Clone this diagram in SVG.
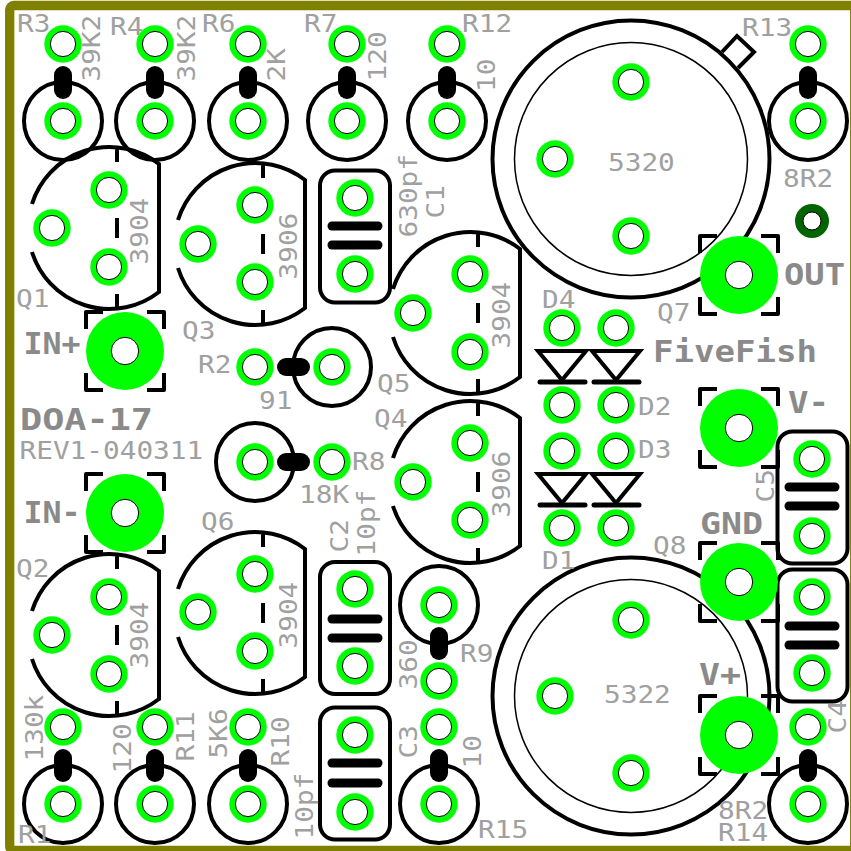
<svg xmlns="http://www.w3.org/2000/svg" width="851" height="851" viewBox="0 0 851 851">
<style>
.o{fill:none;stroke:#000;stroke-width:4}
.th{fill:none;stroke:#000;stroke-width:1.5}
.bar{fill:none;stroke:#000;stroke-width:18;stroke-linecap:round}
.cb{fill:none;stroke:#000;stroke-width:9;stroke-linecap:round}
.dl{fill:none;stroke:#000;stroke-width:4;stroke-linejoin:miter}
.db{fill:none;stroke:#000;stroke-width:5;stroke-linecap:round}
text{font-family:"DejaVu Sans Mono","Liberation Mono",monospace;fill:#a0a0a0;font-size:24px}
.b{font-weight:bold;font-size:30px;fill:#8a8a8a}
</style>
<defs>
<g id="pad"><circle r="18.7" fill="#00ff00"/><circle r="12.6" fill="#fff" stroke="#000" stroke-width="1"/></g>
<g id="bigpad"><circle r="39" fill="#00ff00"/><circle r="13.7" fill="#fff" stroke="#000" stroke-width="1"/></g>
<path id="brk" class="o" stroke-linejoin="round" d="M-39-22V-39H-22M22-39H39V-22M39 22V39H22M-22 39H-39V22"/>
<path id="qb" class="o" d="M-77-24A81 81 0 0 1 50-64V64A81 81 0 0 1-77 24M8-80V-66M8-10V10M8 66V80"/>
<rect id="cap" class="o" x="-35" y="-66" width="70" height="132" rx="15"/>
</defs>
<rect x="9.7" y="5.5" width="845" height="845" rx="4" fill="#fff" stroke="#808000" stroke-width="9.3"/>

<g id="Q7"><circle class="o" cx="631" cy="159" r="138.5"/><circle class="th" cx="631" cy="159" r="116.5"/><path class="o" d="M722 52L737 36L754 52L738 68"/><use href="#pad" x="631" y="82"/><use href="#pad" x="555" y="159"/><use href="#pad" x="631" y="236"/></g>
<g id="Q8"><circle class="o" cx="631" cy="696" r="138.5"/><circle class="th" cx="631" cy="696" r="116.5"/><use href="#pad" x="631" y="620"/><use href="#pad" x="555" y="696"/><use href="#pad" x="631" y="773"/></g>

<g id="R3"><circle class="o" cx="63" cy="121" r="39"/><line class="bar" x1="63" y1="75" x2="63" y2="90"/><use href="#pad" x="63" y="44"/><use href="#pad" x="63" y="121"/></g>
<g id="R4"><circle class="o" cx="155" cy="121" r="39"/><line class="bar" x1="155" y1="75" x2="155" y2="90"/><use href="#pad" x="155" y="44"/><use href="#pad" x="155" y="121"/></g>
<g id="R6"><circle class="o" cx="248" cy="121" r="39"/><line class="bar" x1="248" y1="75" x2="248" y2="90"/><use href="#pad" x="248" y="44"/><use href="#pad" x="248" y="121"/></g>
<g id="R7"><circle class="o" cx="347" cy="121" r="39"/><line class="bar" x1="347" y1="75" x2="347" y2="90"/><use href="#pad" x="347" y="44"/><use href="#pad" x="347" y="121"/></g>
<g id="R12"><circle class="o" cx="447" cy="121" r="39"/><line class="bar" x1="447" y1="75" x2="447" y2="90"/><use href="#pad" x="447" y="44"/><use href="#pad" x="447" y="121"/></g>
<g id="R13"><circle class="o" cx="808" cy="121" r="39"/><line class="bar" x1="808" y1="75" x2="808" y2="90"/><use href="#pad" x="808" y="44"/><use href="#pad" x="808" y="121"/></g>
<g id="R1"><circle class="o" cx="63" cy="804" r="39"/><line class="bar" x1="63" y1="758" x2="63" y2="773"/><use href="#pad" x="63" y="727"/><use href="#pad" x="63" y="804"/></g>
<g id="R11"><circle class="o" cx="155" cy="804" r="39"/><line class="bar" x1="155" y1="758" x2="155" y2="773"/><use href="#pad" x="155" y="727"/><use href="#pad" x="155" y="804"/></g>
<g id="R10"><circle class="o" cx="248" cy="804" r="39"/><line class="bar" x1="248" y1="758" x2="248" y2="773"/><use href="#pad" x="248" y="727"/><use href="#pad" x="248" y="804"/></g>
<g id="R15"><circle class="o" cx="439" cy="804" r="39"/><line class="bar" x1="439" y1="758" x2="439" y2="773"/><use href="#pad" x="439" y="727"/><use href="#pad" x="439" y="804"/></g>
<g id="R14"><circle class="o" cx="808" cy="804" r="39"/><line class="bar" x1="808" y1="758" x2="808" y2="773"/><use href="#pad" x="808" y="727"/><use href="#pad" x="808" y="804"/></g>
<g id="R9"><circle class="o" cx="439" cy="605" r="39"/><line class="bar" x1="439" y1="636" x2="439" y2="651"/><use href="#pad" x="439" y="605"/><use href="#pad" x="439" y="681"/></g>
<g id="R2"><circle class="o" cx="332" cy="367" r="39"/><line class="bar" x1="286" y1="367" x2="301" y2="367"/><use href="#pad" x="332" y="367"/><use href="#pad" x="255" y="367"/></g>
<g id="R8"><circle class="o" cx="255" cy="462" r="39"/><line class="bar" x1="286" y1="462" x2="301" y2="462"/><use href="#pad" x="255" y="462"/><use href="#pad" x="332" y="462"/></g>

<g id="Q1"><use href="#qb" x="109" y="228"/><use href="#pad" x="109" y="190"/><use href="#pad" x="109" y="267"/><use href="#pad" x="52" y="228"/></g>
<g id="Q2"><use href="#qb" x="109" y="635"/><use href="#pad" x="109" y="597"/><use href="#pad" x="109" y="674"/><use href="#pad" x="52" y="635"/></g>
<g id="Q3"><use href="#qb" x="255" y="244"/><use href="#pad" x="255" y="205"/><use href="#pad" x="255" y="282"/><use href="#pad" x="198" y="244"/></g>
<g id="Q6"><use href="#qb" x="255" y="613"/><use href="#pad" x="255" y="574"/><use href="#pad" x="255" y="651"/><use href="#pad" x="198" y="612"/></g>
<g id="Q5"><use href="#qb" x="470" y="313"/><use href="#pad" x="470" y="274"/><use href="#pad" x="470" y="352"/><use href="#pad" x="413" y="313"/></g>
<g id="Q4"><use href="#qb" x="470" y="482"/><use href="#pad" x="470" y="443"/><use href="#pad" x="470" y="520"/><use href="#pad" x="413" y="482"/></g>

<g id="C1"><use href="#cap" x="355" y="236.500"/><line class="cb" x1="332" y1="226" x2="378" y2="226"/><line class="cb" x1="332" y1="245" x2="378" y2="245"/><use href="#pad" x="355" y="198"/><use href="#pad" x="355" y="274"/></g>
<g id="C2"><use href="#cap" x="355" y="628"/><line class="cb" x1="332" y1="619" x2="378" y2="619"/><line class="cb" x1="332" y1="638" x2="378" y2="638"/><use href="#pad" x="355" y="589"/><use href="#pad" x="355" y="666"/></g>
<g id="C3"><use href="#cap" x="355" y="773.500"/><line class="cb" x1="332" y1="763" x2="378" y2="763"/><line class="cb" x1="332" y1="783" x2="378" y2="783"/><use href="#pad" x="355" y="735"/><use href="#pad" x="355" y="812"/></g>
<g id="C5"><use href="#cap" x="812.500" y="497.500"/><line class="cb" x1="789" y1="487" x2="835" y2="487"/><line class="cb" x1="789" y1="506" x2="835" y2="506"/><use href="#pad" x="812" y="459"/><use href="#pad" x="812" y="536"/></g>
<g id="C4"><use href="#cap" x="812.500" y="635.500"/><line class="cb" x1="789" y1="626" x2="835" y2="626"/><line class="cb" x1="789" y1="645" x2="835" y2="645"/><use href="#pad" x="812" y="597"/><use href="#pad" x="812" y="673"/></g>

<g id="D4"><path class="dl" d="M538 351H586L562 380Z"/><line class="db" x1="540" y1="382" x2="585" y2="382"/><use href="#pad" x="562" y="328"/><use href="#pad" x="562" y="405"/></g>
<g id="D2"><path class="dl" d="M592 351H640L616 380Z"/><line class="db" x1="594" y1="382" x2="639" y2="382"/><use href="#pad" x="616" y="328"/><use href="#pad" x="616" y="405"/></g>
<g id="D1"><path class="dl" d="M538 474H586L562 503Z"/><line class="db" x1="540" y1="505" x2="585" y2="505"/><use href="#pad" x="562" y="451"/><use href="#pad" x="562" y="528"/></g>
<g id="D3"><path class="dl" d="M592 474H640L616 503Z"/><line class="db" x1="594" y1="505" x2="639" y2="505"/><use href="#pad" x="616" y="451"/><use href="#pad" x="616" y="528"/></g>

<g id="IN_PLUS"><use href="#brk" x="125" y="351"/><use href="#bigpad" x="125" y="351"/></g>
<g id="IN_MINUS"><use href="#brk" x="125" y="513"/><use href="#bigpad" x="125" y="513"/></g>
<g id="OUT"><use href="#brk" x="739" y="275"/><use href="#bigpad" x="739" y="275"/></g>
<g id="V_MINUS"><use href="#brk" x="739" y="428"/><use href="#bigpad" x="739" y="428"/></g>
<g id="GND"><use href="#brk" x="739" y="582"/><use href="#bigpad" x="739" y="582"/></g>
<g id="V_PLUS"><use href="#brk" x="739" y="735"/><use href="#bigpad" x="739" y="735"/></g>
<g id="TP"><circle cx="812" cy="221" r="17" fill="#006400"/><circle cx="812" cy="221" r="9" fill="#fff" stroke="#000" stroke-width="1"/></g>

<g id="labels">
<text x="17" y="32" textLength="33.400" lengthAdjust="spacingAndGlyphs">R3</text>
<text x="110" y="35" textLength="33.400" lengthAdjust="spacingAndGlyphs">R4</text>
<text x="202" y="32" textLength="33.400" lengthAdjust="spacingAndGlyphs">R6</text>
<text x="304" y="32" textLength="33.400" lengthAdjust="spacingAndGlyphs">R7</text>
<text x="462" y="32" textLength="50.100" lengthAdjust="spacingAndGlyphs">R12</text>
<text x="742" y="36" textLength="50.100" lengthAdjust="spacingAndGlyphs">R13</text>
<text transform="translate(100 81.500) rotate(-90)" textLength="66.800" lengthAdjust="spacingAndGlyphs">39K2</text>
<text transform="translate(195 81.500) rotate(-90)" textLength="66.800" lengthAdjust="spacingAndGlyphs">39K2</text>
<text transform="translate(285 81.500) rotate(-90)" textLength="33.400" lengthAdjust="spacingAndGlyphs">2K</text>
<text transform="translate(386 81.500) rotate(-90)" textLength="50.100" lengthAdjust="spacingAndGlyphs">120</text>
<text transform="translate(495 92) rotate(-90)" textLength="33.400" lengthAdjust="spacingAndGlyphs">10</text>
<text transform="translate(148 264.500) rotate(-90)" textLength="66.800" lengthAdjust="spacingAndGlyphs">3904</text>
<text transform="translate(148 668.500) rotate(-90)" textLength="66.800" lengthAdjust="spacingAndGlyphs">3904</text>
<text transform="translate(297 279.500) rotate(-90)" textLength="66.800" lengthAdjust="spacingAndGlyphs">3906</text>
<text transform="translate(510 348.500) rotate(-90)" textLength="66.800" lengthAdjust="spacingAndGlyphs">3904</text>
<text transform="translate(510 517.500) rotate(-90)" textLength="66.800" lengthAdjust="spacingAndGlyphs">3906</text>
<text transform="translate(297 648.500) rotate(-90)" textLength="66.800" lengthAdjust="spacingAndGlyphs">3904</text>
<text x="16" y="307" textLength="33.400" lengthAdjust="spacingAndGlyphs">Q1</text>
<text x="182" y="339" textLength="33.400" lengthAdjust="spacingAndGlyphs">Q3</text>
<text x="16" y="577" textLength="33.400" lengthAdjust="spacingAndGlyphs">Q2</text>
<text x="201" y="530" textLength="33.400" lengthAdjust="spacingAndGlyphs">Q6</text>
<text x="377" y="392" textLength="33.400" lengthAdjust="spacingAndGlyphs">Q5</text>
<text x="374" y="427" textLength="33.400" lengthAdjust="spacingAndGlyphs">Q4</text>
<text x="657" y="321" textLength="33.400" lengthAdjust="spacingAndGlyphs">Q7</text>
<text x="653" y="554" textLength="33.400" lengthAdjust="spacingAndGlyphs">Q8</text>
<text x="198" y="373" textLength="33.400" lengthAdjust="spacingAndGlyphs">R2</text>
<text x="259" y="409" textLength="33.400" lengthAdjust="spacingAndGlyphs">91</text>
<text x="352" y="470" textLength="33.400" lengthAdjust="spacingAndGlyphs">R8</text>
<text x="299" y="503" textLength="50.100" lengthAdjust="spacingAndGlyphs">18K</text>
<text x="19.500" y="459" textLength="183.700" lengthAdjust="spacingAndGlyphs">REV1-040311</text>
<text class="b" x="20" y="430" textLength="133" lengthAdjust="spacingAndGlyphs">DOA-17</text>
<text class="b" x="23.500" y="354" textLength="57" lengthAdjust="spacingAndGlyphs">IN+</text>
<text class="b" x="23.500" y="523" textLength="57" lengthAdjust="spacingAndGlyphs">IN-</text>
<text class="b" x="784" y="285" textLength="61" lengthAdjust="spacingAndGlyphs">OUT</text>
<text class="b" x="653" y="362" textLength="164" lengthAdjust="spacingAndGlyphs">FiveFish</text>
<text class="b" x="788" y="413" textLength="41" lengthAdjust="spacingAndGlyphs">V-</text>
<text class="b" x="700" y="534" textLength="63" lengthAdjust="spacingAndGlyphs">GND</text>
<text class="b" x="699" y="685" textLength="42" lengthAdjust="spacingAndGlyphs">V+</text>
<text transform="translate(417 237.500) rotate(-90)" textLength="83.500" lengthAdjust="spacingAndGlyphs">630pf</text>
<text transform="translate(444 218.500) rotate(-90)" textLength="33.400" lengthAdjust="spacingAndGlyphs">C1</text>
<text transform="translate(348 552.500) rotate(-90)" textLength="33.400" lengthAdjust="spacingAndGlyphs">C2</text>
<text transform="translate(375 556.500) rotate(-90)" textLength="66.800" lengthAdjust="spacingAndGlyphs">10pf</text>
<text x="460" y="662" textLength="33.400" lengthAdjust="spacingAndGlyphs">R9</text>
<text transform="translate(417 689.500) rotate(-90)" textLength="50.100" lengthAdjust="spacingAndGlyphs">360</text>
<text transform="translate(417 758.500) rotate(-90)" textLength="33.400" lengthAdjust="spacingAndGlyphs">C3</text>
<text transform="translate(481 768.500) rotate(-90)" textLength="33.400" lengthAdjust="spacingAndGlyphs">10</text>
<text x="478" y="838" textLength="50.100" lengthAdjust="spacingAndGlyphs">R15</text>
<text transform="translate(313 839.500) rotate(-90)" textLength="66.800" lengthAdjust="spacingAndGlyphs">10pf</text>
<text transform="translate(289 766.500) rotate(-90)" textLength="50.100" lengthAdjust="spacingAndGlyphs">R10</text>
<text transform="translate(227 758.500) rotate(-90)" textLength="50.100" lengthAdjust="spacingAndGlyphs">5K6</text>
<text transform="translate(43 761.500) rotate(-90)" textLength="66.800" lengthAdjust="spacingAndGlyphs">130k</text>
<text transform="translate(131 773.500) rotate(-90)" textLength="50.100" lengthAdjust="spacingAndGlyphs">120</text>
<text transform="translate(194 761.500) rotate(-90)" textLength="50.100" lengthAdjust="spacingAndGlyphs">R11</text>
<text x="18" y="843" textLength="33.400" lengthAdjust="spacingAndGlyphs">R1</text>
<text x="608" y="171" textLength="66.800" lengthAdjust="spacingAndGlyphs">5320</text>
<text x="604" y="703" textLength="66.800" lengthAdjust="spacingAndGlyphs">5322</text>
<text x="783" y="187" textLength="50.100" lengthAdjust="spacingAndGlyphs">8R2</text>
<text x="718" y="819" textLength="50.100" lengthAdjust="spacingAndGlyphs">8R2</text>
<text x="718" y="841" textLength="50.100" lengthAdjust="spacingAndGlyphs">R14</text>
<text transform="translate(846 733.500) rotate(-90)" textLength="33.400" lengthAdjust="spacingAndGlyphs">C4</text>
<text transform="translate(774 502.500) rotate(-90)" textLength="33.400" lengthAdjust="spacingAndGlyphs">C5</text>
<text x="542" y="308" textLength="33.400" lengthAdjust="spacingAndGlyphs">D4</text>
<text x="638" y="415" textLength="33.400" lengthAdjust="spacingAndGlyphs">D2</text>
<text x="638" y="458" textLength="33.400" lengthAdjust="spacingAndGlyphs">D3</text>
<text x="542" y="569" textLength="33.400" lengthAdjust="spacingAndGlyphs">D1</text>
</g>
</svg>
